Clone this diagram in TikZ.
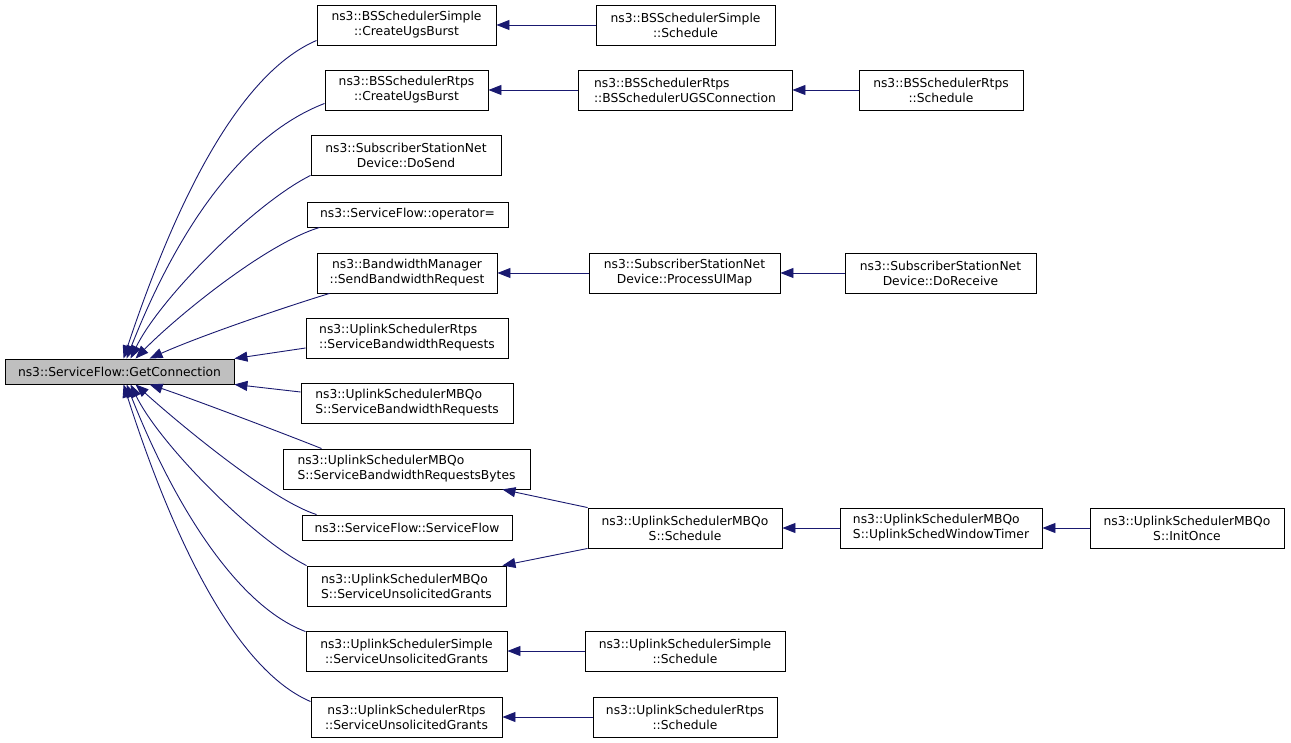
\documentclass[tikz,border=0pt]{standalone}
\usepackage{fontspec}
\setmainfont{DejaVu Sans}
\usetikzlibrary{arrows.meta,calc}
\definecolor{edgeblue}{HTML}{191970}
\definecolor{mainfill}{HTML}{BFBFBF}
\begin{document}
\begin{tikzpicture}[x=1pt,y=-1pt,
  box/.style={draw=black,line width=0.9pt,fill=white,inner sep=0pt,align=center,
    font=\fontsize{12.3pt}{15pt}\selectfont,minimum height=40pt},
  lbox/.style={box,align=left},
  one/.style={minimum height=25pt},
  arr/.style={draw=edgeblue,line width=0.9pt,-{Triangle[length=13pt,width=10pt]}}]
\useasboundingbox[fill=white] (0,0) rectangle (1291,743);
% main node
\node[box,one,fill=mainfill,minimum width=229pt] (main) at (119.5,371.5) {ns3::ServiceFlow::GetConnection};
% column 1
\node[box,minimum width=179pt] (c1) at (406.5,25) {ns3::BSSchedulerSimple\\::CreateUgsBurst};
\node[box,minimum width=163pt] (c2) at (406.5,90) {ns3::BSSchedulerRtps\\::CreateUgsBurst};
\node[box,minimum width=190pt] (c3) at (406,155) {ns3::SubscriberStationNet\\Device::DoSend};
\node[box,one,minimum width=201pt] (c4) at (407.5,214.5) {ns3::ServiceFlow::operator=};
\node[box,minimum width=180pt] (c5) at (407,273) {ns3::BandwidthManager\\::SendBandwidthRequest};
\node[lbox,minimum width=202pt] (c6) at (407,338) {ns3::UplinkSchedulerRtps\\::ServiceBandwidthRequests};
\node[lbox,minimum width=212pt] (c7) at (407,403) {ns3::UplinkSchedulerMBQo\\S::ServiceBandwidthRequests};
\node[lbox,minimum width=247pt] (c8) at (406.5,469) {ns3::UplinkSchedulerMBQo\\S::ServiceBandwidthRequestsBytes};
\node[box,one,minimum width=210pt] (c9) at (407,527.5) {ns3::ServiceFlow::ServiceFlow};
\node[lbox,minimum width=199pt] (c10) at (406.5,586) {ns3::UplinkSchedulerMBQo\\S::ServiceUnsolicitedGrants};
\node[box,minimum width=201pt] (c11) at (406.5,651) {ns3::UplinkSchedulerSimple\\::ServiceUnsolicitedGrants};
\node[box,minimum width=191pt] (c12) at (406.5,717) {ns3::UplinkSchedulerRtps\\::ServiceUnsolicitedGrants};
% column 2
\node[box,minimum width=179pt] (d1) at (685.5,25) {ns3::BSSchedulerSimple\\::Schedule};
\node[lbox,minimum width=214pt] (d2) at (685,90) {ns3::BSSchedulerRtps\\::BSSchedulerUGSConnection};
\node[box,minimum width=191pt] (d5) at (684.5,273) {ns3::SubscriberStationNet\\Device::ProcessUlMap};
\node[box,minimum width=194pt] (d8) at (685,528) {ns3::UplinkSchedulerMBQo\\S::Schedule};
\node[box,minimum width=200pt] (d11) at (685,651) {ns3::UplinkSchedulerSimple\\::Schedule};
\node[box,minimum width=184pt] (d12) at (685,717) {ns3::UplinkSchedulerRtps\\::Schedule};
% column 3
\node[box,minimum width=164pt] (e2) at (941,90) {ns3::BSSchedulerRtps\\::Schedule};
\node[box,minimum width=191pt] (e5) at (940.5,273) {ns3::SubscriberStationNet\\Device::DoReceive};
\node[lbox,minimum width=202pt] (e8) at (941,528) {ns3::UplinkSchedulerMBQo\\S::UplinkSchedWindowTimer};
% column 4
\node[box,minimum width=194pt] (f8) at (1187,528) {ns3::UplinkSchedulerMBQo\\S::InitOnce};
% edges into main
\draw[arr] ($(c1.south west)+(0,-5)$) .. controls (234,76) and (171,216) .. ($(main.north west)+(119,0)$);
\draw[arr] ($(c2.south west)+(0,-7)$) .. controls (235,138) and (172,243) .. ($(main.north west)+(122,0)$);
\draw[arr] (c3.south west) .. controls (255,203) and (160,298) .. ($(main.north west)+(126,0)$);
\draw[arr] ($(c4.south west)+(13,0)$) .. controls (265,244) and (175,318) .. ($(main.north west)+(131,0)$);
\draw[arr] ($(c5.south west)+(13,0)$) .. controls (285,307) and (200,336) .. ($(main.north west)+(145,0)$);
\draw[arr] ($(c6.west)+(0,10)$) -- (main.north east);
\draw[arr] ($(c7.west)+(0,-11)$) -- (main.south east);
\draw[arr] ($(c8.north west)+(39,0)$) .. controls (280,432) and (190,398) .. ($(main.south west)+(145,0)$);
\draw[arr] ($(c9.north west)+(15,0)$) .. controls (270,500) and (175,420) .. ($(main.south west)+(131,0)$);
\draw[arr] (c10.north west) .. controls (255,540) and (160,445) .. ($(main.south west)+(126,0)$);
\draw[arr] ($(c11.north west)+(0,1)$) .. controls (235,605) and (172,500) .. ($(main.south west)+(122,0)$);
\draw[arr] ($(c12.north west)+(0,5)$) .. controls (232,668) and (169,527) .. ($(main.south west)+(119,0)$);
% other edges
\draw[arr] (d1.west) -- (c1.east);
\draw[arr] (d2.west) -- (c2.east);
\draw[arr] (e2.west) -- (d2.east);
\draw[arr] (d5.west) -- (c5.east);
\draw[arr] (e5.west) -- (d5.east);
\draw[arr] (d8.north west) -- ($(c8.south east)+(-28,0)$);
\draw[arr] (d8.south west) -- ($(c10.north east)+(-4,0)$);
\draw[arr] (e8.west) -- (d8.east);
\draw[arr] (f8.west) -- (e8.east);
\draw[arr] (d11.west) -- (c11.east);
\draw[arr] (d12.west) -- (c12.east);
\end{tikzpicture}
\end{document}
